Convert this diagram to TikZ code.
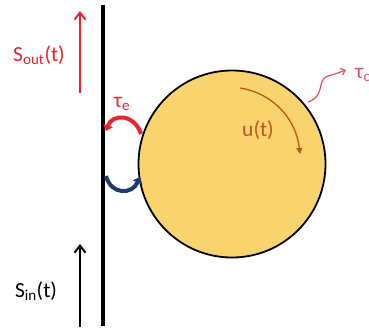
\documentclass[tikz,border=0pt]{standalone}
\usepackage{fontspec}
\setmainfont{Carlito}
\usetikzlibrary{arrows.meta}
\definecolor{sun}{HTML}{F9D46E}
\definecolor{tred}{HTML}{E8242C}
\definecolor{tblue}{HTML}{1F3A6E}
\definecolor{torange}{HTML}{C5511A}
\definecolor{tpink}{HTML}{E0506A}
\tikzset{
  lbl/.style={font=\fontsize{21.5}{25}\selectfont, inner sep=0pt},
  sig/.style={line width=2pt, -{Straight Barb[length=7pt,width=11pt,line width=2pt]}},
  bendarr/.style={line width=4pt, -{Triangle[length=6pt,width=10pt]}},
}
\begin{document}
\begin{tikzpicture}[x=1pt,y=-1pt]
\useasboundingbox (0,0) rectangle (369,329);
\node[circle, draw, fill=sun, minimum size=187pt, line width=1.8pt, inner sep=0pt] (ball) at (232,164) {};
\coordinate (wt) at (103,5);
\coordinate (wb) at (103,326);
\draw[line width=4pt] (wt) -- (wb);
% S_out
\coordinate (so1) at (80,93);
\coordinate (so2) at (80,11);
\draw[sig, tred] (so1) -- (so2);
\node[lbl, text=tred] (sout) at (39,55) {S\textsubscript{out}(t)};
% S_in
\coordinate (si1) at (80,327);
\coordinate (si2) at (80,244);
\draw[sig, black] (si1) -- (si2);
\node[lbl] (sin) at (36,291) {S\textsubscript{in}(t)};
% tau_e arcs
\coordinate (r1) at (141,134);
\coordinate (r2) at (106,131);
\draw[bendarr, tred] (r1) .. controls (134,113) and (112,114) .. (r2);
\node[lbl, text=tred] (taue) at (122,104) {τ\textsubscript{e}};
\coordinate (b1) at (106,176);
\coordinate (b2) at (140,177);
\draw[bendarr, tblue] (b1) .. controls (111,195) and (132,195) .. (b2);
% u(t)
\coordinate (u1) at (240,88);
\coordinate (u2) at (300,154);
\draw[torange, line width=1.3pt, -{Triangle[length=6pt,width=6pt]}] (u1) .. controls (272,93) and (296,118) .. (u2);
\node[lbl, text=torange] (ut) at (258,130) {u(t)};
% tau_c
\coordinate (c1) at (308,102);
\coordinate (c2) at (346,70);
\draw[tpink, line width=1.2pt, -{Straight Barb[length=4pt,width=7pt]}] (c1) .. controls (326,96) and (316,80) .. (328,76) .. controls (335,74) .. (c2);
\node[lbl, text=tpink, anchor=west] (tauc) at (355,75) {τ\textsubscript{c}};
\end{tikzpicture}
\end{document}
